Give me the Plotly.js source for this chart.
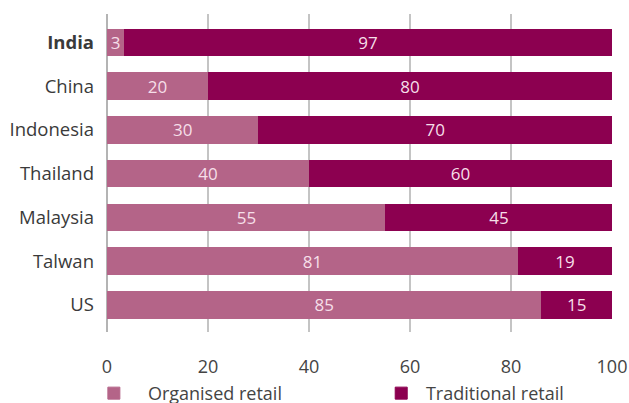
<!DOCTYPE html>
<html>
<head>
<meta charset="utf-8">
<script src="https://cdn.plot.ly/plotly-3.0.1.min.js"></script>
<style>html,body{margin:0;padding:0;background:#fff}#chart{width:629px;height:403px}</style>
</head>
<body>
<div id="chart"></div>
<script>
const categories = ['<b>India</b>', 'China', 'Indonesia', 'Thailand', 'Malaysia', 'Talwan', 'US'];
const organised = [3.4, 20, 30, 40, 55.2, 81.4, 86];
const traditional = [96.6, 80, 70, 60, 44.8, 18.6, 14];
const organisedLabels = ['3', '20', '30', '40', '55', '81', '85'];
const traditionalLabels = ['97', '80', '70', '60', '45', '19', '15'];
const seriesNames = ['Organised retail', 'Traditional retail'];
const xTicks = [0, 20, 40, 60, 80, 100];

const FONT = '"Open Sans", "DejaVu Sans", sans-serif';
const barText = {family: FONT, size: 17, color: '#f6dfe9'};
const legendFont = {family: FONT, size: 18, color: '#444'};

const traces = [
  {
    type: 'bar', orientation: 'h', name: '\u00a0\u00a0\u00a0' + seriesNames[0], legend: 'legend',
    y: categories, x: organised, text: organisedLabels,
    textposition: 'inside', insidetextanchor: 'middle', textangle: 0, constraintext: 'none',
    textfont: barText, hoverinfo: 'skip',
    marker: {color: '#b46488', line: {color: '#b46488', width: 1}}
  },
  {
    type: 'bar', orientation: 'h', name: '\u00a0' + seriesNames[1], legend: 'legend2',
    y: categories, x: traditional, text: traditionalLabels,
    textposition: 'inside', insidetextanchor: 'middle', textangle: 0, constraintext: 'none',
    textfont: barText, hoverinfo: 'skip',
    marker: {color: '#8c0050', line: {color: '#8c0050', width: 1}}
  }
];

const layout = {
  width: 629, height: 403,
  margin: {l: 107, r: 17, t: 14, b: 71, autoexpand: false},
  paper_bgcolor: '#fff', plot_bgcolor: '#fff',
  font: {family: FONT, color: '#444'},
  barmode: 'stack', bargap: 0.394,
  showlegend: true,
  uniformtext: {mode: 'show', minsize: 17},
  legend: {
    orientation: 'h', x: -0.026, xanchor: 'left', y: -0.135, yanchor: 'top',
    font: legendFont, bgcolor: 'rgba(0,0,0,0)'
  },
  legend2: {
    orientation: 'h', x: 0.543, xanchor: 'left', y: -0.135, yanchor: 'top',
    font: legendFont, bgcolor: 'rgba(0,0,0,0)'
  },
  xaxis: {
    range: [0, 100], tickvals: xTicks, ticktext: xTicks.map(String),
    showgrid: true, gridcolor: '#c4c4c4', gridwidth: 1.4,
    zeroline: true, zerolinecolor: '#b4b4b4', zerolinewidth: 2,
    showline: false, ticks: '', ticklabelstandoff: 22,
    tickfont: {family: FONT, size: 18, color: '#444'},
    fixedrange: true
  },
  yaxis: {
    type: 'category', categoryorder: 'array', categoryarray: categories,
    range: [6.62, -0.65], showgrid: false, zeroline: false, showline: false,
    ticks: '', ticklabelstandoff: 12,
    tickfont: {family: FONT, size: 18.5, color: '#3a3a3a'},
    fixedrange: true
  }
};

Plotly.newPlot('chart', traces, layout, {displayModeBar: false, staticPlot: true});
</script>
</body>
</html>
